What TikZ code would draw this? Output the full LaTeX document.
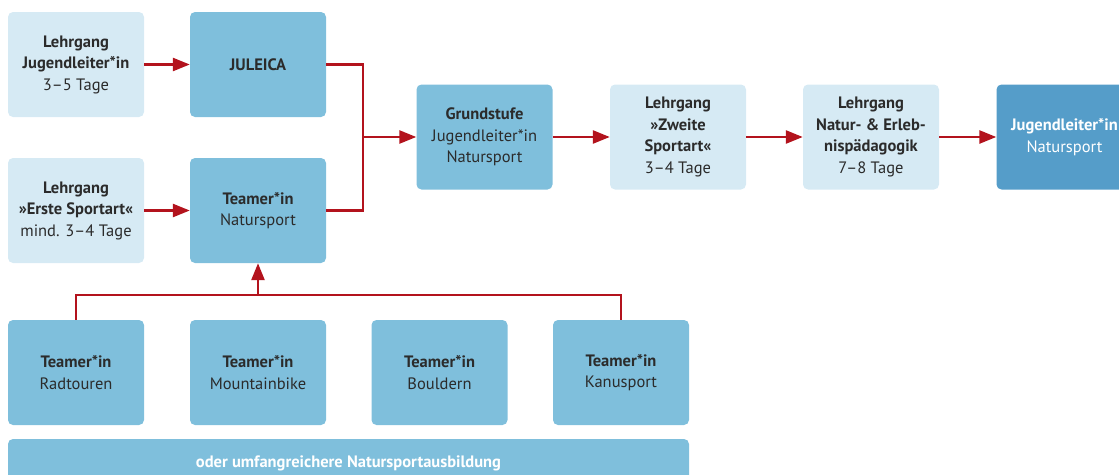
\documentclass[tikz,border=0pt]{standalone}
\usepackage{fontspec}
\setmainfont{PT Sans}
\usetikzlibrary{arrows.meta}
\definecolor{lightbox}{HTML}{D6EAF4}
\definecolor{midbox}{HTML}{7FBFDC}
\definecolor{darkbox}{HTML}{559DC9}
\definecolor{arrowred}{HTML}{B3131D}
\definecolor{txt}{HTML}{2B2B2B}
\begin{document}
\begin{tikzpicture}[x=1pt,y=-1pt,
 box/.style={rounded corners=5pt, minimum width=136pt, minimum height=105pt, align=center, text=txt, font=\fontsize{16.5}{21.5}\selectfont, inner sep=0pt},
 light/.style={box, fill=lightbox},
 mid/.style={box, fill=midbox},
 dark/.style={box, fill=darkbox, text=white},
 conn/.style={draw=arrowred, line width=2.6pt},
 arr/.style={conn, -{Triangle[length=17pt,width=13pt]}}]
\useasboundingbox (0,0) rectangle (1119,474);
\begin{scope}
\clip (0,0) rectangle (1119,474);
\node[light] (lj) at (76,64.5) {\textbf{Lehrgang}\\\textbf{Jugendleiter*in}\\3–5 Tage};
\node[mid] (jul) at (258,64.5) {\textbf{JULEICA}};
\node[light] (les) at (76,210.5) {\textbf{Lehrgang}\\\textbf{»Erste Sportart«}\\mind. 3–4 Tage};
\node[mid] (tn) at (258,210.5) {\textbf{Teamer*in}\\Natursport};
\node[mid] (gs) at (484.5,137) {\textbf{Grundstufe}\\Jugendleiter*in\\Natursport};
\node[light] (zs) at (678,137) {\textbf{Lehrgang}\\\textbf{»Zweite}\\\textbf{Sportart«}\\3–4 Tage};
\node[light] (ne) at (871,137) {\textbf{Lehrgang}\\\textbf{Natur- \& Erleb-}\\\textbf{nispädagogik}\\7–8 Tage};
\node[dark] (jn) at (1064.5,137) {\textbf{Jugendleiter*in}\\Natursport};
\node[mid] (rt) at (76,372.5) {\textbf{Teamer*in}\\Radtouren};
\node[mid] (mb) at (258,372.5) {\textbf{Teamer*in}\\Mountainbike};
\node[mid] (bo) at (439.5,372.5) {\textbf{Teamer*in}\\Bouldern};
\node[mid] (ks) at (621,372.5) {\textbf{Teamer*in}\\Kanusport};
\node[mid, minimum width=681pt, minimum height=48pt, text=white] (bar) at (348.5,463) {\textbf{oder umfangreichere Natursportausbildung}};
\draw[arr] (lj) -- (jul);
\draw[arr] (les) -- (tn);
\coordinate (m) at (363,137);
\draw[conn] (jul.east) -| (m) |- (tn.east);
\draw[arr] (m) -- (gs);
\draw[arr] (gs) -- (zs);
\draw[arr] (zs) -- (ne);
\draw[arr] (ne) -- (jn);
\coordinate (h) at (258,295);
\draw[conn] (rt.north) |- (h) -| (ks.north);
\draw[arr] (h) -- (tn.south);
\end{scope}
\end{tikzpicture}
\end{document}
